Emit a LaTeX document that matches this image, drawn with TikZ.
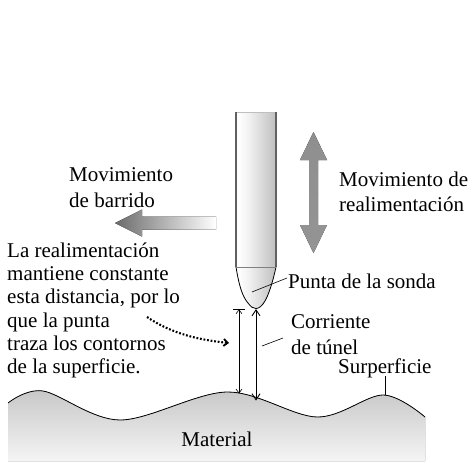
\documentclass[tikz,border=0pt]{standalone}
\usepackage{fontspec}
\setmainfont{Liberation Serif}
\usetikzlibrary{arrows.meta}
% metallic look of the probe: light band left of centre, darker towards the right
\pgfdeclarehorizontalshading{probeshade}{100bp}{color(0bp)=(black!32); color(14bp)=(black!10); color(28bp)=(white); color(42bp)=(white!94!black); color(80bp)=(black!28); color(100bp)=(black!40)}
% multi-line labels are placed by the baseline of their last line
\tikzset{
  lbl/.style={inner sep=0pt, anchor=base west, align=left, font=\fontsize{21}{25.5}\selectfont},
  note/.style={lbl, font=\fontsize{21}{23.2}\selectfont},
  leader/.style={line width=0.6pt},
  gaparrow/.style={line width=0.6pt, {Straight Barb[length=4pt,width=6pt]}-{Straight Barb[length=4pt,width=6pt]}},
  currentarrow/.style={line width=0.9pt, {Straight Barb[length=6pt,width=8pt]}-{Straight Barb[length=6pt,width=8pt]}},
  surfline/.style={line width=0.8pt},
  probeedge/.style={draw=black!62, line width=1.1pt},
  dotpointer/.style={line width=2.1pt, dash pattern=on 1.8pt off 1.8pt,
      -{Straight Barb[length=4pt,width=7pt,line width=1.8pt]}},
}
\begin{document}
\begin{tikzpicture}[x=1pt,y=-1pt]
\useasboundingbox (0,0) rectangle (471,461);

% ---- material with its wavy surface ----
\fill[top color=black!22, bottom color=black!4]
  plot[smooth, tension=0.55] coordinates {(8,403) (43,391) (120,420) (227,392) (317,417) (383,395) (425,417)}
  -- (425,461) -- (8,461) -- cycle;
\draw[surfline]
  plot[smooth, tension=0.55] coordinates {(8,403) (43,391) (120,420) (227,392) (317,417) (383,395) (425,417)};
\node[inner sep=0pt, anchor=base, font=\fontsize{21}{24}\selectfont] (material) at (217,446) {Material};

% ---- scanning motion arrow ----
\fill[left color=black!58, right color=white]
  (115,223) -- (142,209.5) -- (142,216.5) -- (216,216.5) -- (216,229.5)
  -- (142,229.5) -- (142,236.5) -- cycle;
\node[lbl] (barrido) at (69,207) {Movimiento\\de barrido};

% ---- feedback motion arrow ----
\fill[top color=black!44, middle color=black!14, bottom color=black!42]
  (313.5,132) -- (327,160) -- (318,160) -- (318,225) -- (327,225) -- (313.5,253)
  -- (300,225) -- (309,225) -- (309,160) -- (300,160) -- cycle;
\node[lbl] (realim) at (339,211.5) {Movimiento de\\realimentación};

% ---- probe shaft ----
\shade[shading=probeshade] (236,112) rectangle (276,267);
\draw[black!25, line width=0.5pt] (236,112) -- (276,112);
\draw[probeedge] (236,112) -- (236,267);
\draw[probeedge] (276,112) -- (276,267);

% ---- probe tip ----
\shade[shading=probeshade]
  (236,267) .. controls (239,285) and (242,296) .. (248,303)
  .. controls (251,307) and (253,308.5) .. (256,308.5)
  .. controls (259,308.5) and (262,306) .. (265,301)
  .. controls (269,294) and (273,281) .. (276,267) -- cycle;
\draw[line width=0.8pt]
  (236,267) .. controls (239,285) and (242,296) .. (248,303)
  .. controls (251,307) and (253,308.5) .. (256,308.5)
  .. controls (259,308.5) and (262,306) .. (265,301)
  .. controls (269,294) and (273,281) .. (276,267);
\draw[black!50, line width=0.6pt] (236,267) -- (276,267);

% ---- labels and leaders on the right ----
\node[lbl] (punta) at (288,288.5) {Punta de la sonda};
\coordinate (puntain) at (252,292);
\coordinate (puntaend) at (287,278);
\draw[leader] (puntain) -- (puntaend);

\node[lbl] (corriente) at (291,354) {Corriente\\de túnel};
\coordinate (corrin) at (262,346);
\coordinate (corrend) at (283,338);
\draw[leader] (corrin) -- (corrend);

\node[lbl] (surflbl) at (338,373) {Surperficie};
\coordinate (surftop) at (385,376);
\coordinate (surfpeak) at (385,395);
\draw[leader] (surftop) -- (surfpeak);

% ---- tip-to-surface gap and tunnel current ----
\coordinate (tickl) at (233,309);
\coordinate (tickr) at (245,309);
\draw[leader] (tickl) -- (tickr);
\coordinate (gaptop) at (239,309.3);
\coordinate (gapbot) at (239,393.5);
\draw[gaparrow] (gaptop) -- (gapbot);

\coordinate (tipend) at (256,309);
\coordinate (surfpt) at (256,400.5);
\draw[currentarrow] (tipend) -- (surfpt);

% ---- explanatory note with dotted pointer ----
\node[note] (nota) at (7,373.5) {La realimentación\\mantiene constante\\esta distancia, por lo\\que la punta\\traza los contornos\\de la superficie.};
\coordinate (dotstart) at (147,317);
\coordinate (dotend) at (229,343);
\draw[dotpointer] (dotstart) .. controls (172,334) and (200,340) .. (dotend);
\end{tikzpicture}
\end{document}
